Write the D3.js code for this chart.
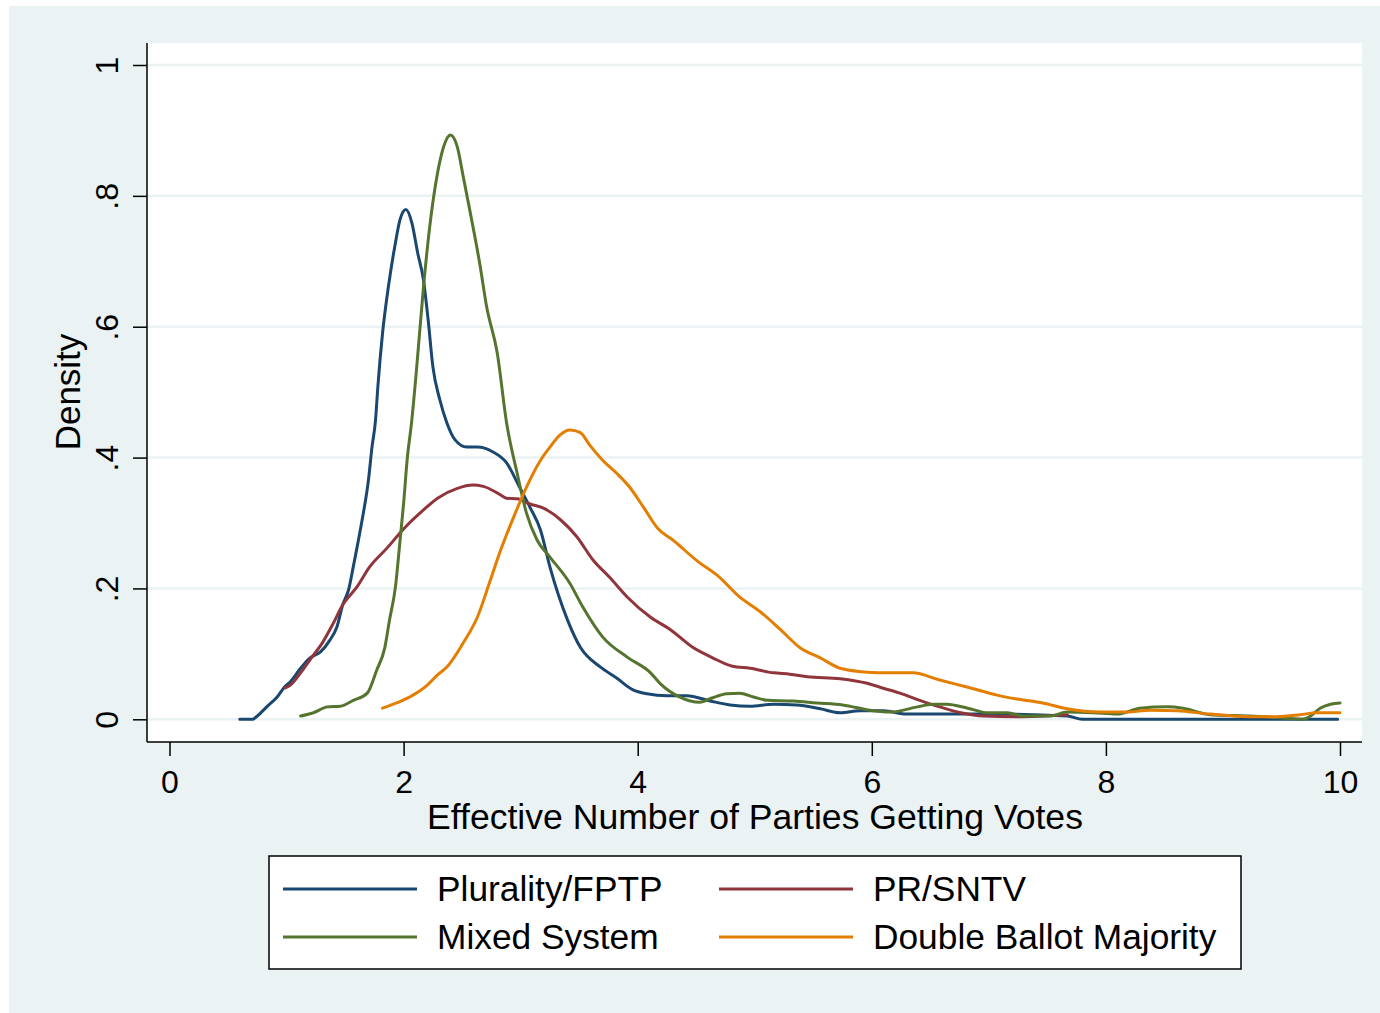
<!DOCTYPE html>
<html><head><meta charset="utf-8">
<script src="https://cdn.jsdelivr.net/npm/d3@7"></script>
<style>body{margin:0;background:#fff}svg{display:block}text{font-family:Arial,"Liberation Sans",sans-serif;fill:#000}</style>
</head><body>
<svg id="c" width="1380" height="1013"></svg>
<script>
const seriesNames = ["Plurality/FPTP","PR/SNTV","Mixed System","Double Ballot Majority"];
const seriesColors = ["#1a476f","#90353b","#55752f","#e37e00"];
const xTicks = [0,2,4,6,8,10];
const yTicks = [0,0.2,0.4,0.6,0.8,1];
const yTickLabels = ["0",".2",".4",".6",".8","1"];

const fptpX = [0.60,0.71,0.75,0.83,0.92,0.99,1.03,1.12,1.20,1.29,1.37,1.43,1.48,1.53,1.57,1.61,1.65,1.70,1.73,1.76,1.78,1.82,1.87,1.93,1.97,2.02,2.07,2.12,2.17,2.21,2.25,2.31,2.37,2.44,2.54,2.63,2.76,2.88,2.99,3.08,3.17,3.25,3.40,3.51,3.68,3.82,3.96,4.08,4.25,4.42,4.62,4.79,4.96,5.16,5.36,5.56,5.73,5.90,6.10,6.30,7.10,7.67,7.80,9.98];
const fptpY = [0.000,0.000,0.005,0.019,0.034,0.051,0.057,0.078,0.094,0.103,0.121,0.141,0.175,0.198,0.233,0.270,0.309,0.366,0.416,0.457,0.508,0.590,0.661,0.728,0.764,0.779,0.759,0.713,0.671,0.610,0.539,0.488,0.453,0.427,0.416,0.416,0.409,0.392,0.355,0.324,0.289,0.233,0.152,0.110,0.080,0.063,0.045,0.039,0.036,0.036,0.028,0.022,0.020,0.023,0.022,0.016,0.010,0.013,0.013,0.008,0.008,0.005,0.000,0.000];

const prX = [0.99,1.03,1.12,1.20,1.31,1.40,1.48,1.60,1.71,1.86,1.99,2.17,2.29,2.46,2.59,2.68,2.80,2.88,2.97,3.08,3.19,3.34,3.48,3.62,3.76,3.91,4.11,4.28,4.47,4.64,4.81,4.96,5.16,5.30,5.45,5.73,5.96,6.07,6.24,6.41,6.58,6.76,6.95,7.24,7.67];
const prY = [0.048,0.052,0.071,0.091,0.118,0.147,0.175,0.202,0.233,0.262,0.289,0.320,0.338,0.353,0.358,0.356,0.346,0.338,0.337,0.329,0.323,0.305,0.279,0.243,0.217,0.187,0.156,0.137,0.110,0.094,0.081,0.078,0.071,0.069,0.065,0.062,0.055,0.049,0.040,0.029,0.019,0.010,0.005,0.004,0.007];

const mixX = [1.12,1.23,1.35,1.46,1.57,1.69,1.77,1.84,1.88,1.93,1.97,2.00,2.03,2.07,2.11,2.17,2.23,2.29,2.34,2.40,2.46,2.51,2.57,2.65,2.71,2.80,2.88,2.97,3.05,3.14,3.25,3.42,3.53,3.70,3.91,4.11,4.19,4.36,4.53,4.64,4.76,4.87,4.99,5.11,5.33,5.53,5.75,6.01,6.16,6.39,6.52,6.64,6.82,6.99,7.16,7.29,7.52,7.67,7.89,8.10,8.29,8.52,8.66,8.89,9.23,9.51,9.68,9.74,9.83,9.92,10.0];
const mixY = [0.005,0.010,0.019,0.020,0.029,0.040,0.075,0.110,0.152,0.202,0.274,0.330,0.396,0.457,0.534,0.661,0.763,0.835,0.874,0.893,0.874,0.829,0.774,0.697,0.630,0.560,0.453,0.376,0.315,0.274,0.248,0.208,0.172,0.126,0.095,0.071,0.055,0.034,0.026,0.033,0.039,0.040,0.034,0.029,0.028,0.025,0.022,0.013,0.011,0.019,0.023,0.023,0.017,0.010,0.010,0.005,0.005,0.011,0.010,0.008,0.017,0.019,0.017,0.007,0.005,0.002,0.000,0.004,0.017,0.023,0.025];

const dbX = [1.82,1.94,2.08,2.20,2.29,2.37,2.51,2.63,2.74,2.82,2.94,3.05,3.17,3.25,3.34,3.42,3.51,3.59,3.70,3.82,3.93,4.05,4.17,4.30,4.53,4.68,4.87,5.05,5.22,5.39,5.56,5.73,5.96,6.13,6.35,6.58,6.82,7.07,7.24,7.46,7.67,7.95,8.18,8.38,8.61,8.89,9.23,9.46,9.66,9.80,10.0];
const dbY = [0.017,0.025,0.037,0.052,0.068,0.080,0.117,0.156,0.212,0.254,0.309,0.355,0.396,0.416,0.435,0.442,0.438,0.419,0.396,0.376,0.355,0.324,0.292,0.274,0.239,0.220,0.187,0.164,0.137,0.109,0.094,0.078,0.072,0.071,0.071,0.060,0.049,0.037,0.031,0.025,0.016,0.011,0.011,0.014,0.013,0.008,0.004,0.004,0.007,0.010,0.010];

const seriesX = [fptpX, prX, mixX, dbX];
const seriesY = [fptpY, prY, mixY, dbY];

const svg = d3.select("#c");
const bg = "#eaf2f3";
svg.append("rect").attr("x",9).attr("y",6).attr("width",1371).attr("height",1007).attr("fill",bg);
const L=147, R=1362, T=43, B=742;
svg.append("rect").attr("x",L).attr("y",T).attr("width",R-L).attr("height",B-T).attr("fill","#fff");

const x = d3.scaleLinear().domain([0,10]).range([169.5,1340]);
const y = d3.scaleLinear().domain([0,1]).range([719.3,65]);

// grid
svg.append("g").selectAll("line").data(yTicks).join("line")
  .attr("x1",L).attr("x2",R).attr("y1",d=>y(d)).attr("y2",d=>y(d))
  .attr("stroke",bg).attr("stroke-width",2.5);

// lines
const line = d3.line().x(d=>x(d[0])).y(d=>y(d[1])).curve(d3.curveMonotoneX);
seriesNames.forEach((n,i)=>{
  const pts = seriesX[i].map((v,j)=>[v, seriesY[i][j]]);
  svg.append("path").datum(pts).attr("d",line).attr("fill","none")
    .attr("stroke",seriesColors[i]).attr("stroke-width",3).attr("stroke-linejoin","round").attr("stroke-linecap","round");
});

// axes
const xAxis = d3.axisBottom(x).tickValues(xTicks).tickSize(14).tickPadding(14).tickSizeOuter(0).tickFormat(d3.format("d"));
const gx = svg.append("g").attr("transform",`translate(0,${B})`).call(xAxis);
gx.select(".domain").remove();
gx.selectAll(".tick line").attr("stroke","#000").attr("stroke-width",1.5);
gx.selectAll(".tick text").attr("font-size",32).attr("font-family","Arial,'Liberation Sans',sans-serif").attr("fill","#000").attr("dy","0.71em");

const yAxis = d3.axisLeft(y).tickValues(yTicks).tickSize(14).tickSizeOuter(0).tickFormat((d,i)=>yTickLabels[i]);
const gy = svg.append("g").attr("transform",`translate(${L},0)`).call(yAxis);
gy.select(".domain").remove();
gy.selectAll(".tick line").attr("stroke","#000").attr("stroke-width",1.5);
gy.selectAll(".tick text").attr("font-size",32).attr("font-family","Arial,'Liberation Sans',sans-serif").attr("fill","#000")
  .attr("x",null).attr("dy",null).attr("text-anchor","middle")
  .attr("transform","translate(-29,0) rotate(-90)");

svg.append("line").attr("x1",L).attr("x2",L).attr("y1",T).attr("y2",B).attr("stroke","#000").attr("stroke-width",1.5);
svg.append("line").attr("x1",L).attr("x2",R).attr("y1",B).attr("y2",B).attr("stroke","#000").attr("stroke-width",1.5);

svg.append("text").attr("x",755).attr("y",829).attr("text-anchor","middle").attr("font-size",35.6).text("Effective Number of Parties Getting Votes");
svg.append("text").attr("transform","translate(80,392) rotate(-90)").attr("text-anchor","middle").attr("font-size",35).text("Density");

// legend
svg.append("rect").attr("x",269).attr("y",856).attr("width",972).attr("height",113).attr("fill","#fff").attr("stroke","#000").attr("stroke-width",1.5);
const legPos = [[283,889],[719,889],[283,937],[719,937]];
seriesNames.forEach((n,i)=>{
  const [lx,ly]=legPos[i];
  svg.append("line").attr("x1",lx).attr("x2",lx+134).attr("y1",ly).attr("y2",ly).attr("stroke",seriesColors[i]).attr("stroke-width",3);
  svg.append("text").attr("x",lx+154).attr("y",ly+12).attr("font-size",35.3).text(n);
});
</script>
</body></html>
